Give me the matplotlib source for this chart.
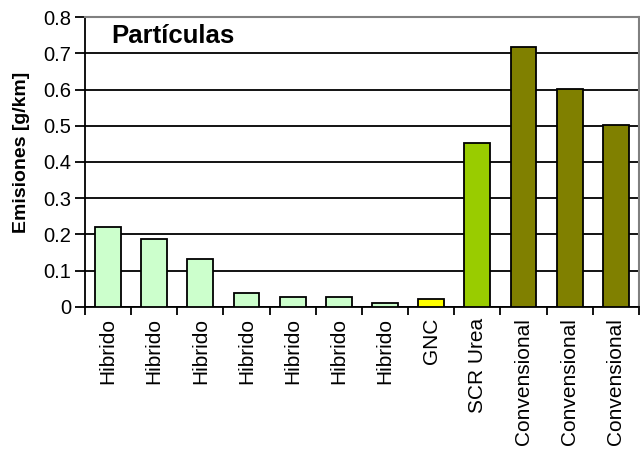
import numpy as np
import matplotlib
matplotlib.use('Agg')
import matplotlib.pyplot as plt

# データ
categories = ['Hibrido', 'Hibrido', 'Hibrido', 'Hibrido', 'Hibrido', 'Hibrido',
              'Hibrido', 'GNC', 'SCR Urea', 'Convensional', 'Convensional', 'Convensional']
values = [0.22, 0.188, 0.133, 0.038, 0.028, 0.028, 0.01, 0.021, 0.452, 0.716, 0.601, 0.502]
colors = ['#CCFFCC'] * 7 + ['#FFFF00', '#99CC00', '#808000', '#808000', '#808000']
yticks = [0, 0.1, 0.2, 0.3, 0.4, 0.5, 0.6, 0.7, 0.8]
ytick_labels = ['0', '0.1', '0.2', '0.3', '0.4', '0.5', '0.6', '0.7', '0.8']

plt.rcParams['font.family'] = ['Liberation Sans', 'DejaVu Sans']

fig = plt.figure(figsize=(6.4, 4.51), dpi=100)
ax = fig.add_axes([0.1328, 0.3193, 0.8655, 0.643])

x = np.arange(len(categories))
ax.bar(x, values, width=0.56, color=colors, edgecolor='black', linewidth=1.3, zorder=3)

ax.set_xlim(-0.5, len(categories) - 0.5)
ax.set_ylim(0, 0.8)
ax.set_yticks(yticks)
ax.set_yticklabels(ytick_labels, fontsize=14.5)
ax.yaxis.grid(True, color='black', linewidth=1.3, zorder=0)

# x軸の目盛（カテゴリ間）
ax.set_xticks(x)
ax.set_xticklabels(categories, rotation=90, fontsize=15)
ax.tick_params(axis='x', length=0, pad=8)
ax.set_xticks(np.arange(len(categories) + 1) - 0.5, minor=True)
ax.tick_params(axis='x', which='minor', length=6, width=1.3, direction='out')
ax.tick_params(axis='y', length=7, width=1.3, direction='out', pad=3)

for s in ['top', 'right']:
    ax.spines[s].set_color('#808080')
    ax.spines[s].set_linewidth(1.5)
for s in ['left', 'bottom']:
    ax.spines[s].set_color('black')
    ax.spines[s].set_linewidth(1.3)

ax.set_ylabel('Emisiones [g/km]', fontsize=14, fontweight='bold')
ax.yaxis.set_label_coords(-0.099, 0.534)
ax.text(0.047, 0.935, 'Partículas', transform=ax.transAxes, fontsize=18.5,
        fontweight='bold', va='center', ha='left')

fig.savefig('out.png', dpi=100)
